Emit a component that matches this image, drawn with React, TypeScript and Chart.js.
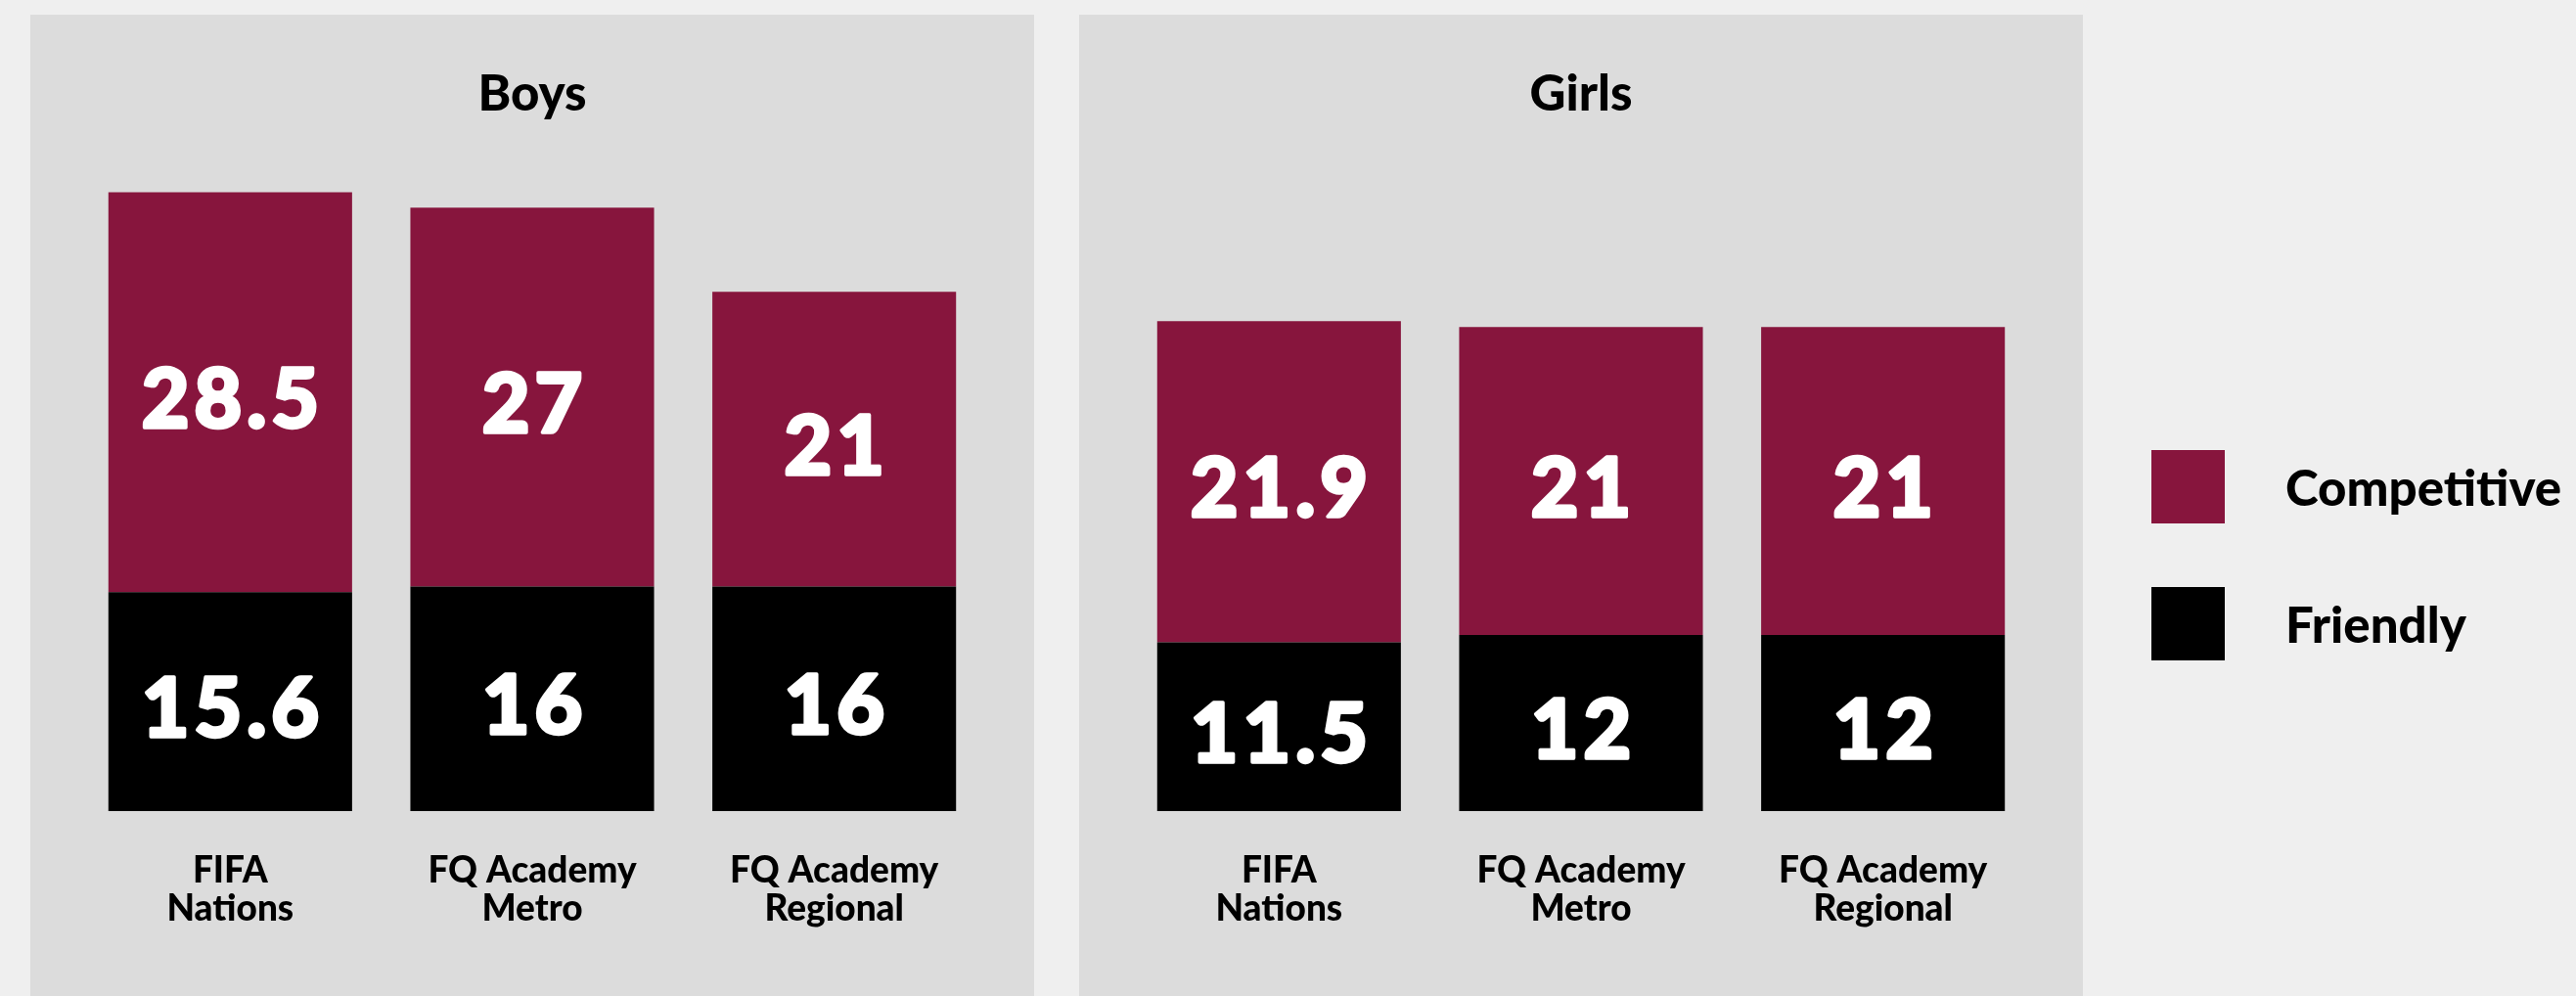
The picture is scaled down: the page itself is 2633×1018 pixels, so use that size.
import React, { useEffect, useRef } from 'react';
import { Chart, registerables } from 'chart.js';

Chart.register(...registerables);

// ---- data ----
const categories: string[][] = [
  ['FIFA', 'Nations'],
  ['FQ Academy', 'Metro'],
  ['FQ Academy', 'Regional'],
];
const seriesNames = ['Friendly', 'Competitive'];
const boysFriendly = [15.6, 16, 16];
const boysCompetitive = [28.5, 27, 21];
const girlsFriendly = [11.5, 12, 12];
const girlsCompetitive = [21.9, 21, 21];

// ---- styles ----
const CRIMSON = '#87153d';
const BLACK = '#000000';
const PANEL_BG = '#dcdcdc';
const PAGE_BG = '#efefef';
const FONT = 'Lato, "Noto Sans", sans-serif';

const valueLabels = {
  id: 'valueLabels',
  afterDatasetsDraw(chart: any) {
    const ctx = chart.ctx;
    ctx.save();
    ctx.fillStyle = '#ffffff';
    ctx.strokeStyle = '#ffffff';
    ctx.lineWidth = 3.5;
    ctx.lineJoin = 'round';
    ctx.textAlign = 'center';
    ctx.textBaseline = 'middle';
    ctx.font = `900 84px ${FONT}`;
    const spacing = 5;
    (ctx as any).letterSpacing = spacing + 'px';
    chart.data.datasets.forEach((ds: any, i: number) => {
      const meta = chart.getDatasetMeta(i);
      meta.data.forEach((bar: any, j: number) => {
        const { x, y, base } = bar.getProps(['x', 'y', 'base'], true);
        const tx = x + spacing / 2;
        const ty = (y + base) / 2 + 9;
        ctx.fillText(String(ds.data[j]), tx, ty);
        ctx.strokeText(String(ds.data[j]), tx, ty);
      });
    });
    ctx.restore();
  },
};

function Panel(props: { title: string; friendly: number[]; competitive: number[]; yMax: number; left: number }) {
  const ref = useRef<HTMLCanvasElement>(null);
  useEffect(() => {
    const chart = new Chart(ref.current as HTMLCanvasElement, {
      type: 'bar',
      data: {
        labels: categories,
        datasets: [
          { label: seriesNames[0], data: props.friendly, backgroundColor: BLACK, borderWidth: 0 },
          { label: seriesNames[1], data: props.competitive, backgroundColor: CRIMSON, borderWidth: 0 },
        ],
      },
      options: {
        responsive: false,
        animation: false,
        layout: { padding: { left: 50, right: 50, top: 0, bottom: 27 } },
        datasets: { bar: { barPercentage: 0.807, categoryPercentage: 1 } },
        plugins: {
          legend: { display: false },
          tooltip: { enabled: false },
          title: {
            display: true,
            text: props.title,
            color: '#000',
            font: { family: FONT, size: 51, weight: '900' as any, lineHeight: 1.2 },
            padding: { top: 51, bottom: 42 },
          },
        },
        scales: {
          x: {
            stacked: true,
            grid: { display: false, drawTicks: false },
            border: { display: false },
            ticks: {
              color: '#000',
              font: { family: FONT, size: 37, weight: '900' as any, lineHeight: 1.054 },
              padding: 42,
              maxRotation: 0,
              autoSkip: false,
            },
          },
          y: { stacked: true, display: false, min: 0, max: props.yMax },
        },
      },
      plugins: [valueLabels],
    });
    return () => chart.destroy();
  }, []);
  return (
    <div
      style={{
        position: 'absolute',
        left: props.left,
        top: 15,
        width: 1026,
        height: 1003,
        background: PANEL_BG,
        overflow: 'hidden',
      }}
    >
      <canvas ref={ref} width={1026} height={1003} style={{ display: 'block' }} />
    </div>
  );
}

function LegendItem(props: { color: string; label: string; top: number }) {
  return (
    <>
      <div style={{ position: 'absolute', left: 2199, top: props.top, width: 75, height: 75, background: props.color }} />
      <div
        style={{
          position: 'absolute',
          left: 2336,
          top: props.top,
          height: 75,
          lineHeight: '75px',
          fontFamily: FONT,
          fontWeight: 900,
          fontSize: 51,
          color: '#000',
          whiteSpace: 'nowrap',
        }}
      >
        {props.label}
      </div>
    </>
  );
}

export default function App() {
  return (
    <div
      style={{
        position: 'absolute',
        left: 0,
        top: 0,
        width: 2633,
        height: 1018,
        overflow: 'hidden',
        background: PAGE_BG,
      }}
    >
      <Panel title="Boys" friendly={boysFriendly} competitive={boysCompetitive} yMax={46} left={31} />
      <Panel title="Girls" friendly={girlsFriendly} competitive={girlsCompetitive} yMax={44} left={1103} />
      <LegendItem color={CRIMSON} label={seriesNames[1]} top={460} />
      <LegendItem color={BLACK} label={seriesNames[0]} top={600} />
    </div>
  );
}
